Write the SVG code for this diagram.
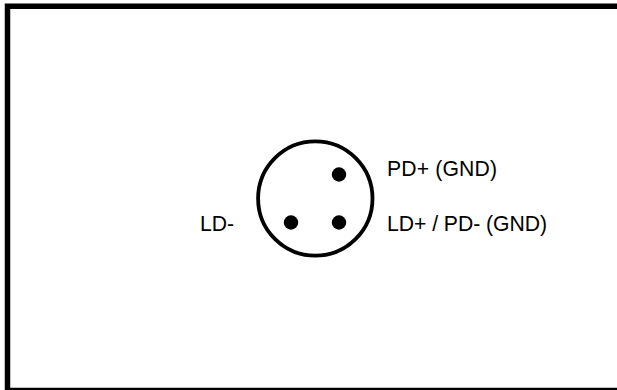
<svg xmlns="http://www.w3.org/2000/svg" width="617" height="390" viewBox="0 0 617 390">
<style>
.b{fill:none;stroke:#000;stroke-width:5.5}
.pin{fill:#000}
text{font-family:"Liberation Sans",Arial,sans-serif;font-size:21.2px;fill:#000}
</style>
<rect width="617" height="390" fill="#fff"/>
<g id="frame"><path class="b" d="M7.5 392V6.2H620M5 390.5H620"/></g>
<g id="connector"><circle cx="315.3" cy="198.5" r="57.2" fill="none" stroke="#000" stroke-width="3.8"/></g>
<g id="pin-pd"><circle class="pin" cx="339" cy="174.5" r="7.2"/><text x="387" y="175.5" textLength="110">PD+ (GND)</text></g>
<g id="pin-ld-minus"><circle class="pin" cx="291" cy="222.5" r="7.2"/><text x="200" y="231">LD-</text></g>
<g id="pin-ld-plus"><circle class="pin" cx="339" cy="222.5" r="7.2"/><text x="387" y="230.5" textLength="160">LD+ / PD- (GND)</text></g>
</svg>
